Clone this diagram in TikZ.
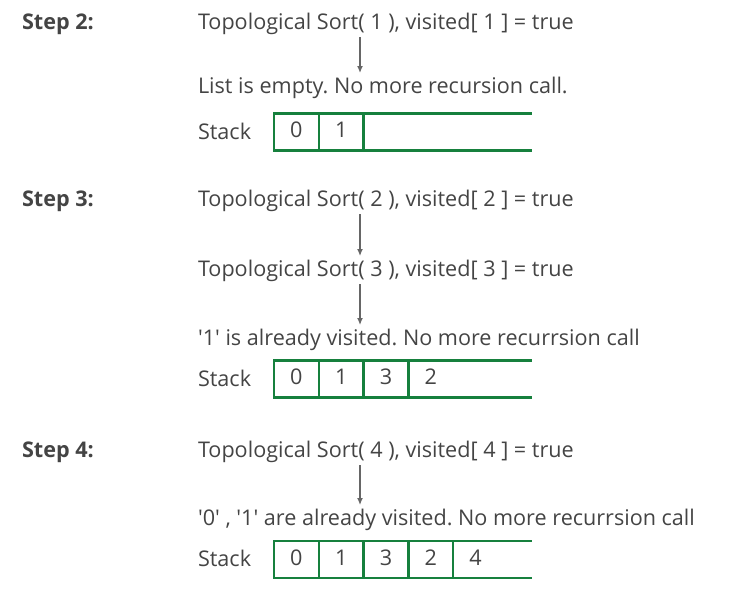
\documentclass[tikz,border=0pt]{standalone}
\usepackage{fontspec}
\setmainfont{Open Sans}
\usetikzlibrary{arrows.meta}
\definecolor{txtgray}{HTML}{444444}
\definecolor{arrowgray}{HTML}{666666}
\definecolor{stackgreen}{HTML}{16803D}
\newcommand{\q}{\textquotesingle}

\begin{document}
\frenchspacing
\begin{tikzpicture}[
	x=1pt, y=-1pt,
	every node/.style={font=\fontsize{21.6}{26}\selectfont, text=txtgray, inner sep=0pt, outer sep=0pt, text height=16pt, text depth=5pt},
	line/.style={anchor=base west},
	steplabel/.style={anchor=base west, font=\fontsize{21.6}{26}\selectfont\bfseries},
	cell/.style={draw=stackgreen, line width=2.5pt, minimum width=44.8pt, minimum height=37pt, anchor=west},
	freecell/.style={minimum width=44.8pt, minimum height=37pt, anchor=west},
	stackline/.style={draw=stackgreen, line width=2.5pt},
	callarrow/.style={draw=arrowgray, line width=1.3pt, -{Latex[length=7pt, width=6pt]}, shorten <=3pt, shorten >=4pt}
]
%/*
\useasboundingbox (0,0) rectangle (735,598);

\node[steplabel] (st2) at (22,29) {Step 2:};
\node[line] (t1) at (198,29) {Topological Sort( 1 ), visited[ 1 ] = true};
\node[line] (l1) at (198,93) {List is empty. No more recursion call.};
\node[line] (k2) at (198,139) {Stack};
\node[cell] (s2a) at (274,132) {0};
\node[cell] (s2b) at (s2a.east) {1};
\draw[stackline] (s2a.north west) -- ++(258,0);
\draw[stackline] (s2a.south west) -- ++(258,0);
\draw[callarrow] ([xshift=162pt]t1.south west) -- ([xshift=162pt]l1.north west);

\node[steplabel] (st3) at (22,206) {Step 3:};
\node[line] (t2) at (198,206) {Topological Sort( 2 ), visited[ 2 ] = true};
\node[line] (t3) at (198,276) {Topological Sort( 3 ), visited[ 3 ] = true};
\node[line] (l3) at (198,345) {\q1\q{} is already visited. No more recurrsion call};
\node[line] (k3) at (198,386) {Stack};
\node[cell] (s3a) at (274,379) {0};
\node[cell] (s3b) at (s3a.east) {1};
\node[cell] (s3c) at (s3b.east) {3};
\node[freecell] (s3d) at (s3c.east) {2};
\draw[stackline] (s3a.north west) -- ++(258,0);
\draw[stackline] (s3a.south west) -- ++(258,0);
\draw[callarrow] ([xshift=162pt]t2.south west) -- ([xshift=162pt]t3.north west);
\draw[callarrow] ([xshift=162pt]t3.south west) -- ([xshift=162pt]l3.north west);

\node[steplabel] (st4) at (22,457) {Step 4:};
\node[line] (t4) at (198,457) {Topological Sort( 4 ), visited[ 4 ] = true};
\node[line] (l4) at (198,525) {\q0\q{} , \q1\q{} are already visited. No more recurrsion call};
\node[line] (k4) at (198,566) {Stack};
\node[cell] (s4a) at (274,559.5) {0};
\node[cell] (s4b) at (s4a.east) {1};
\node[cell] (s4c) at (s4b.east) {3};
\node[cell] (s4d) at (s4c.east) {2};
\node[freecell] (s4e) at (s4d.east) {4};
\draw[stackline] (s4a.north west) -- ++(258,0);
\draw[stackline] (s4a.south west) -- ++(258,0);
\draw[callarrow] ([xshift=162pt]t4.south west) -- ([xshift=162pt]l4.north west);
%*/
\end{tikzpicture}
\end{document}
